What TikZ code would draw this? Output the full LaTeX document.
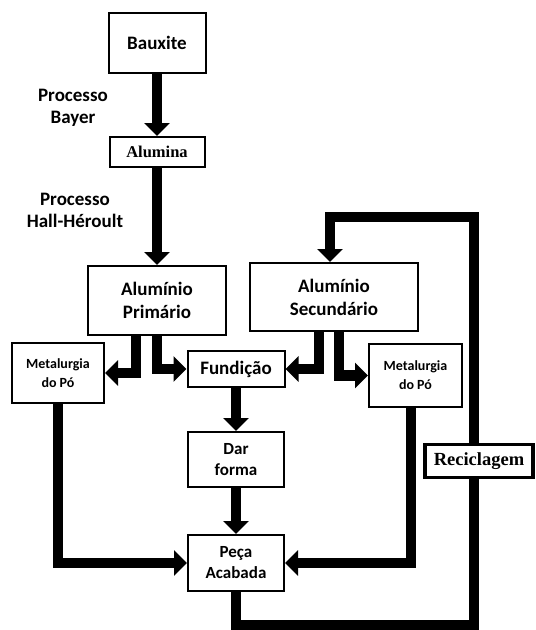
\documentclass[tikz,border=0pt]{standalone}
\usepackage{fontspec}
\setmainfont{Carlito}
\newfontfamily\serifbold{Liberation Serif}
\usetikzlibrary{positioning,arrows.meta}

\tikzset{
  box/.style={draw, line width=2pt, align=center, inner sep=0pt, font=\bfseries\fontsize{19}{23}\selectfont},
  midbox/.style={box, font=\bfseries\fontsize{17}{21}\selectfont},
  smallbox/.style={box, font=\bfseries\fontsize{14}{19}\selectfont},
  serifbox/.style={box, font=\serifbold\bfseries\fontsize{16.5}{18}\selectfont},
  flow/.style={line width=10.5pt, -{Triangle[width=25pt,length=13pt]}},
  lbl/.style={align=center, font=\bfseries\fontsize{19}{22}\selectfont},
}

\begin{document}
\begin{tikzpicture}[x=1pt, y=-1pt]
  \useasboundingbox (0,0) rectangle (536,630);

  % Nodes
  \node[box, minimum width=97pt, minimum height=60pt] (baux) at (157,43) {Bauxite};
  \node[serifbox, minimum width=95pt, minimum height=30pt, below=62pt of baux] (alum) {Alumina};
  \node[box, minimum width=138pt, minimum height=69pt, below=97pt of alum] (prim) {Alumínio\\Primário};
  \node[box, minimum width=168pt, minimum height=68pt] (sec) at (334,297) {Alumínio\\Secundário};
  \node[smallbox, minimum width=92pt, minimum height=60pt] (metL) at (58,373) {Metalurgia\\do Pó};
  \node[smallbox, minimum width=93pt, minimum height=63pt] (metR) at (415.5,375.5) {Metalurgia\\do Pó};
  \node[box, minimum width=97pt, minimum height=36pt] (fund) at (236,369) {Fundição};
  \node[midbox, minimum width=96pt, minimum height=55pt, below=43pt of fund] (dar) {Dar\\forma};
  \node[midbox, minimum width=96pt, minimum height=56pt, below=46pt of dar] (peca) {Peça\\Acabada};

  % Labels
  \node[lbl] (bayer) at (73,108) {Processo\\Bayer};
  \node[lbl] (hall) at (75,210) {Processo\\Hall-Héroult};

  % Arrows
  \draw[flow] (baux) -- (alum);
  \draw[flow] (alum) -- (prim);
  \draw[flow] ([xshift=-21pt]prim.south) |- (metL);
  \draw[flow] (prim.south) |- (fund);
  \draw[flow] ([xshift=-15pt]sec.south) |- (fund);
  \draw[flow] ([xshift=5pt]sec.south) |- (metR);
  \draw[flow] (fund) -- (dar);
  \draw[flow] (dar) -- (peca);
  \draw[flow] (metL) |- (peca);
  \draw[flow] ([xshift=-4.5pt]metR.south) |- (peca);

  % Recycling loop
  \coordinate (loopB) at (474,625);
  \coordinate (loopT) at (474,217);
  \draw[flow] (peca.south) |- (loopB) -- (loopT) -| ([xshift=-4pt]sec.north);
  \node[draw, fill=white, line width=3.5pt, minimum width=108pt, minimum height=33pt, inner sep=0pt,
        font=\serifbold\bfseries\fontsize{18.5}{20}\selectfont] (recic) at (479,461) {Reciclagem};
\end{tikzpicture}
\end{document}
